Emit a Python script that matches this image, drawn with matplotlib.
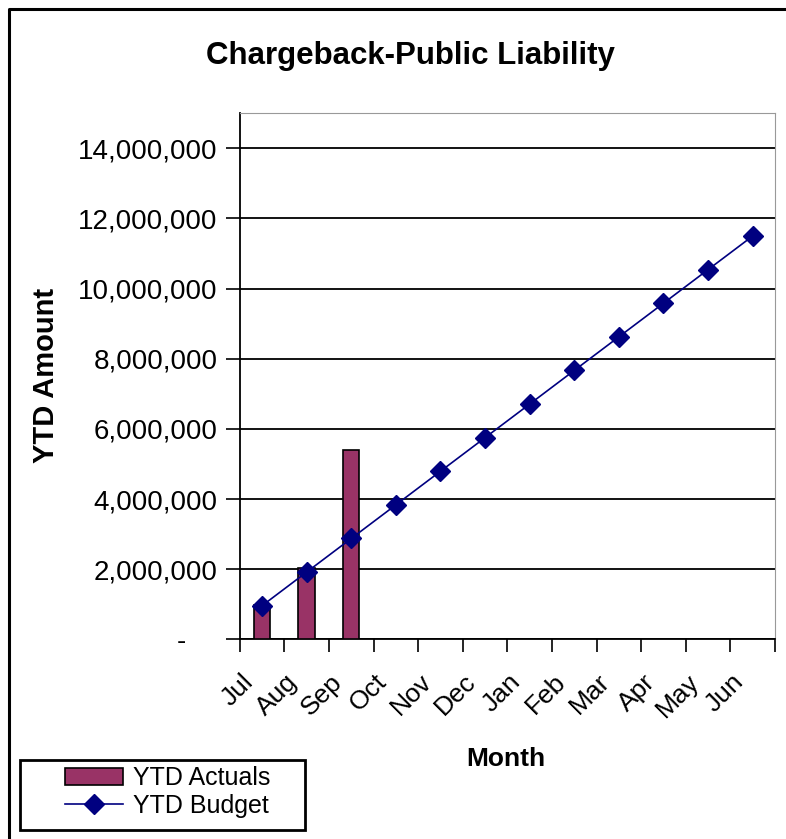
import matplotlib.pyplot as plt
import matplotlib.transforms as mtrans
import numpy as np
from matplotlib.ticker import FuncFormatter

plt.rcParams['font.family'] = ['Liberation Sans', 'DejaVu Sans']

# Datos
meses = ["Jul", "Aug", "Sep", "Oct", "Nov", "Dec", "Jan", "Feb", "Mar", "Apr", "May", "Jun"]
ytd_actuals = [970000, 2030000, 5400000]
ytd_budget = [958000, 1917000, 2875000, 3833000, 4792000, 5750000,
              6708000, 7667000, 8625000, 9583000, 10542000, 11500000]

x = np.arange(len(meses))

fig = plt.figure(figsize=(7.86, 8.39), dpi=100)
ax = fig.add_axes([0.305, 0.238, 0.681, 0.627])

barras = ax.bar(x[:len(ytd_actuals)], ytd_actuals, width=0.37, color='#993366',
                edgecolor='black', linewidth=1.2, zorder=3, label='YTD Actuals')
linea, = ax.plot(x, ytd_budget, color='#000080', linewidth=1.2, marker='D',
                 markersize=10, zorder=4, label='YTD Budget')

ax.set_xlim(-0.5, len(meses) - 0.5)
ax.set_ylim(0, 15000000)
ax.set_yticks(np.arange(0, 14000001, 2000000))
# formato contable: el cero se muestra como un guion
ax.yaxis.set_major_formatter(FuncFormatter(lambda v, p: '-    ' if v == 0 else f'{v:,.0f}'))
ax.yaxis.grid(True, color='black', linewidth=1.3, zorder=0)
ax.tick_params(axis='y', length=10, width=1.2, labelsize=20, pad=6)

# marcas en los limites de cada mes, etiquetas en el centro
ax.set_xticks(np.arange(-0.5, len(meses), 1.0))
ax.set_xticklabels([])
ax.set_xticks(x, minor=True)
ax.set_xticklabels(meses, minor=True, rotation=45, ha='right', va='top',
                   rotation_mode='anchor', fontsize=19)
ax.tick_params(axis='x', which='major', length=9, width=1.2)
ax.tick_params(axis='x', which='minor', length=0, pad=22)
desplazar = mtrans.ScaledTranslation(-0.21, 0, fig.dpi_scale_trans)
for etiqueta in ax.get_xticklabels(minor=True):
    etiqueta.set_transform(etiqueta.get_transform() + desplazar)

for lado in ['top', 'right']:
    ax.spines[lado].set_color('#999999')
for lado in ['left', 'bottom']:
    ax.spines[lado].set_linewidth(1.3)

fig.text(0.522, 0.933, "Chargeback-Public Liability", ha='center', va='center',
         fontsize=22.5, fontweight='bold')
fig.text(0.058, 0.552, "YTD Amount", rotation=90, ha='center', va='center',
         fontsize=21, fontweight='bold')
fig.text(0.643, 0.095, "Month", ha='center', va='center', fontsize=19,
         fontweight='bold')

leg = fig.legend(handles=[barras, linea], loc='center left',
                 bbox_to_anchor=(0.067, 0.056), fontsize=18, frameon=False,
                 borderpad=0, handlelength=2.3, handletextpad=0.4,
                 labelspacing=0.15)

# caja de la leyenda y marco exterior
fig.patches.append(plt.Rectangle((0.026, 0.011), 0.362, 0.083, transform=fig.transFigure,
                                 fill=False, edgecolor='black', linewidth=2))
fig.add_artist(plt.Line2D([0.011, 0.011, 1.0], [0.0, 0.989, 0.989],
                          transform=fig.transFigure, color='black', linewidth=2.2))

fig.savefig("out.png", dpi=100)
